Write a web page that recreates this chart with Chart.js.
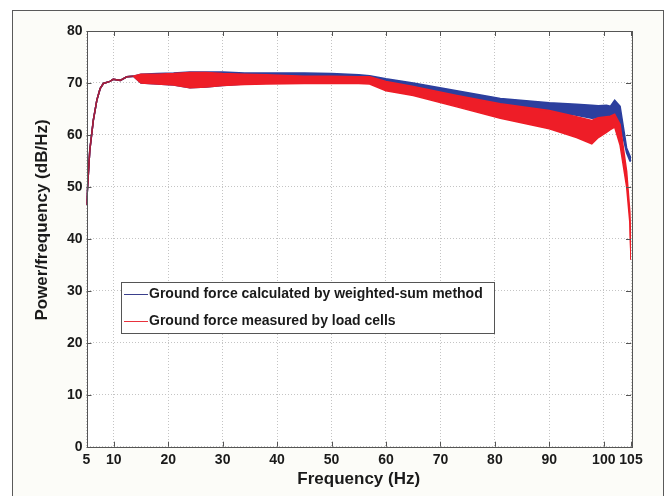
<!DOCTYPE html>
<html>
<head>
<meta charset="utf-8">
<title>Ground force PSD</title>
<script src="https://cdn.jsdelivr.net/npm/chart.js@4"></script>
<style>
  html, body { margin: 0; padding: 0; background: #ffffff; }
  #wrap { position: relative; width: 671px; height: 496px; }
</style>
</head>
<body>
<div id="wrap"><canvas id="psdChart" width="671" height="496"></canvas></div>
<script>
const freqs = [5, 5.6, 6.25, 6.9, 7.5, 8.1, 9.3, 9.9, 11.2, 12.4, 13.6,
    15, 18, 21, 24, 27, 30, 34, 38,
    45, 50, 55, 57, 60, 65, 73, 81, 90, 95, 97.8, 99, 100.5, 101.2, 102, 103, 104.2, 104.8, 105];

// weighted-sum method (blue): upper / lower edge of the noisy band
const blueUpper = [46.5, 57, 62.8, 66.7, 68.9, 69.9, 70.3, 70.7, 70.5, 71.2, 71.3,
    71.7, 71.8, 71.9, 72.1, 72.1, 72.1, 71.9, 71.9,
    71.9, 71.8, 71.6, 71.4, 70.8, 70.0, 68.5, 67.0, 66.2, 65.9, 65.7, 65.6, 65.7, 65.5, 66.7, 65.5, 57.5, 56.0, 55.5];
const blueLower = [46.5, 57, 62.8, 66.7, 68.9, 69.9, 70.3, 70.7, 70.5, 71.2, 71.3,
    70.0, 69.8, 69.6, 69.1, 69.2, 69.5, 69.8, 70.0,
    70.2, 70.3, 70.3, 70.1, 69.4, 68.5, 67.2, 65.8, 64.5, 63.8, 63.2, 63.3, 63.5, 63.5, 64.0, 62.0, 56.5, 55.0, 55.0];

// load cells (red): upper / lower edge of the noisy band
const redUpper = [46.5, 57, 62.8, 66.7, 68.9, 69.9, 70.3, 70.7, 70.5, 71.2, 71.3,
    71.7, 71.7, 71.8, 72.0, 72.0, 71.8, 71.7, 71.6,
    71.3, 71.3, 71.2, 71.2, 70.3, 69.3, 67.6, 66.0, 64.7, 63.5, 62.8, 63.3, 63.5, 63.6, 64.0, 62.0, 53.0, 45.0, 36.0];
const redLower = [46.5, 57, 62.8, 66.7, 68.9, 69.9, 70.3, 70.7, 70.5, 71.2, 71.3,
    70.0, 69.8, 69.6, 69.1, 69.2, 69.5, 69.7, 69.8,
    69.9, 69.9, 69.9, 69.8, 68.5, 67.6, 65.4, 63.2, 61.2, 59.5, 58.3, 59.5, 60.5, 61.0, 61.5, 58.0, 50.0, 43.0, 36.0];

const xTicks = [5, 10, 20, 30, 40, 50, 60, 70, 80, 90, 100, 105];
const yTicks = [0, 10, 20, 30, 40, 50, 60, 70, 80];

const seriesNames = ['Ground force calculated by weighted-sum method', 'Ground force measured by load cells'];
const yTitle = 'Power/frequency (dB/Hz)';

const BLUE = '#2c3f9e';
const RED = '#ee1d27';
const OVERLAP = '#a3203c';   // where both curves sit on top of each other

function toPoints(ys) {
    return freqs.map(function(f, i) { return { x: f, y: ys[i] }; });
}

// red drawn over blue below ~14 Hz looks maroon in the original
function redSegment(c) {
    return c.p1.parsed.x <= 13.6 ? OVERLAP : RED;
}

// figure frame, matlab style box, inward ticks, y title and the legend
const matlabFrame = {
    id: 'matlabFrame',
    beforeDraw: function(chart) {
        const ctx = chart.ctx;
        ctx.save();
        ctx.fillStyle = '#fcfcf8';
        ctx.fillRect(12, 10, 651, 490);
        ctx.strokeStyle = '#5a5a5a';
        ctx.lineWidth = 1;
        ctx.strokeRect(12.5, 10.5, 651, 490);
        const a = chart.chartArea;
        ctx.fillStyle = '#ffffff';
        ctx.fillRect(a.left, a.top, a.right - a.left, a.bottom - a.top);
        ctx.restore();
    },
    afterDraw: function(chart) {
        const ctx = chart.ctx;
        const a = chart.chartArea;
        const xs = chart.scales.x;
        const ys = chart.scales.y;
        ctx.save();
        ctx.strokeStyle = '#555555';
        ctx.lineWidth = 1;
        ctx.strokeRect(Math.round(a.left) + 0.5, Math.round(a.top) + 0.5, Math.round(a.right - a.left), Math.round(a.bottom - a.top));
        ctx.beginPath();
        xTicks.forEach(function(t) {
            const px = Math.round(xs.getPixelForValue(t)) + 0.5;
            ctx.moveTo(px, a.bottom); ctx.lineTo(px, a.bottom - 5);
            ctx.moveTo(px, a.top); ctx.lineTo(px, a.top + 5);
        });
        yTicks.forEach(function(t) {
            const py = Math.round(ys.getPixelForValue(t)) + 0.5;
            ctx.moveTo(a.left, py); ctx.lineTo(a.left + 5, py);
            ctx.moveTo(a.right, py); ctx.lineTo(a.right - 5, py);
        });
        ctx.stroke();

        // y axis title (sits a little above the middle in the original)
        ctx.save();
        ctx.translate(42, 220);
        ctx.rotate(-Math.PI / 2);
        ctx.font = 'bold 17px "Liberation Sans", Arial, sans-serif';
        ctx.fillStyle = '#1a1a1a';
        ctx.textAlign = 'center';
        ctx.textBaseline = 'middle';
        ctx.fillText(yTitle, 0, 0);
        ctx.restore();

        // legend box
        const bx = 121.5, by = 282.5, bw = 373, bh = 51;
        ctx.fillStyle = '#ffffff';
        ctx.fillRect(bx, by, bw, bh);
        ctx.strokeStyle = '#555555';
        ctx.strokeRect(bx, by, bw, bh);
        const rows = [294.5, 321.5];
        const colors = ['#3a3f8c', '#e8323c'];
        ctx.font = 'bold 14px "Liberation Sans", Arial, sans-serif';
        ctx.textBaseline = 'middle';
        ctx.fillStyle = '#1a1a1a';
        rows.forEach(function(ry, i) {
            ctx.strokeStyle = colors[i];
            ctx.lineWidth = 1;
            ctx.beginPath();
            ctx.moveTo(124, ry); ctx.lineTo(148, ry);
            ctx.stroke();
            ctx.fillText(seriesNames[i], 149, ry);
        });
        ctx.restore();
    }
};

document.addEventListener('DOMContentLoaded', function() {
    const canvas = document.getElementById('psdChart');
    if (!canvas) {
        console.error('Canvas element not found');
        return;
    }
    const ctx = canvas.getContext('2d');

    const tickFont = { family: '"Liberation Sans", Arial, sans-serif', size: 14, weight: 'bold' };
    const titleFont = { family: '"Liberation Sans", Arial, sans-serif', size: 17, weight: 'bold' };

    try {
        new Chart(ctx, {
            type: 'line',
            data: {
                datasets: [
                    {
                        label: seriesNames[1],
                        data: toPoints(redUpper),
                        borderColor: RED,
                        backgroundColor: RED,
                        borderWidth: 1.5,
                        segment: { borderColor: redSegment },
                        fill: '+1'
                    },
                    {
                        label: seriesNames[1] + ' (lower)',
                        data: toPoints(redLower),
                        borderColor: RED,
                        borderWidth: 1.5,
                        segment: { borderColor: redSegment },
                        fill: false
                    },
                    {
                        label: seriesNames[0],
                        data: toPoints(blueUpper),
                        borderColor: BLUE,
                        backgroundColor: BLUE,
                        borderWidth: 1.5,
                        fill: '+1'
                    },
                    {
                        label: seriesNames[0] + ' (lower)',
                        data: toPoints(blueLower),
                        borderColor: BLUE,
                        borderWidth: 1.5,
                        fill: false
                    }
                ]
            },
            options: {
                responsive: false,
                animation: false,
                parsing: false,
                layout: { padding: { left: 0, right: 40, top: 31, bottom: 0 } },
                elements: {
                    point: { radius: 0 },
                    line: { tension: 0 }
                },
                plugins: {
                    legend: { display: false },
                    tooltip: { enabled: false }
                },
                scales: {
                    x: {
                        type: 'linear',
                        min: 5,
                        max: 105,
                        afterBuildTicks: function(scale) {
                            scale.ticks = xTicks.map(function(v) { return { value: v }; });
                        },
                        afterFit: function(scale) { scale.height = 49.3; },
                        ticks: {
                            font: tickFont,
                            color: '#1a1a1a',
                            padding: 5,
                            maxRotation: 0,
                            autoSkip: false
                        },
                        grid: {
                            color: '#c4c4c4',
                            lineWidth: 1,
                            drawTicks: false
                        },
                        border: { display: false, dash: [1, 2] },
                        title: {
                            display: true,
                            text: 'Frequency (Hz)',
                            font: titleFont,
                            color: '#1a1a1a',
                            padding: { top: 0, bottom: 6 }
                        }
                    },
                    y: {
                        min: 0,
                        max: 80,
                        afterBuildTicks: function(scale) {
                            scale.ticks = yTicks.map(function(v) { return { value: v }; });
                        },
                        afterFit: function(scale) { scale.width = 86.5; },
                        ticks: {
                            font: tickFont,
                            color: '#1a1a1a',
                            padding: 4
                        },
                        grid: {
                            color: '#c4c4c4',
                            lineWidth: 1,
                            drawTicks: false
                        },
                        border: { display: false, dash: [1, 2] }
                    }
                }
            },
            plugins: [matlabFrame]
        });
        console.log('Chart created');
    } catch (error) {
        console.error('Error creating chart:', error);
    }
});
</script>
</body>
</html>
